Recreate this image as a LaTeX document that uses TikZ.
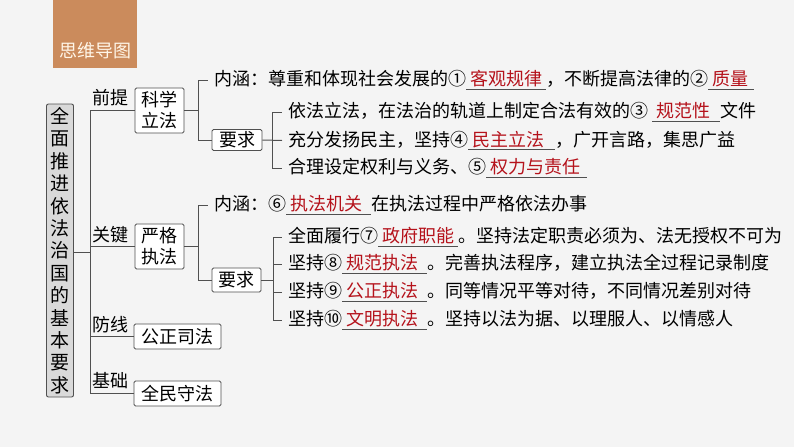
\documentclass[tikz,border=0pt]{standalone}
\usepackage{fontspec}
\setmainfont{Noto Sans CJK SC}
\definecolor{bgc}{HTML}{F4F4F4}
\definecolor{lnc}{HTML}{505050}
\definecolor{ansred}{HTML}{B5121B}
\definecolor{tagc}{HTML}{CB8B5C}
\definecolor{tagtxt}{HTML}{FFF6E8}
\definecolor{boxgray}{HTML}{D9D9D9}
\newcommand\ans[2]{\rlap{\color{lnc}\rule[-4pt]{#1pt}{0.8pt}}\makebox[#1pt][l]{\hspace{4pt}\color{ansred}#2}}
\tikzset{
  conn/.style={draw=lnc, line width=1pt},
  bx/.style={draw=lnc, line width=0.9pt, fill=white, rounded corners=1.5pt, inner sep=0pt, align=center},
  lbl/.style={inner sep=0pt, font=\fontsize{18}{20}\selectfont},
  row/.style={inner xsep=6pt, inner ysep=0pt, anchor=west, font=\fontsize{18}{20}\selectfont},
}
\begin{document}
\begin{tikzpicture}[x=1pt,y=-1pt]
\fill[bgc] (0,0) rectangle (794,447);
\useasboundingbox (0,0) rectangle (794,447);
% title tag
\node[fill=tagc, minimum width=84pt, minimum height=68pt, inner sep=0pt] (tag) at (95,34) {};
\node[inner sep=0pt, text=tagtxt, font=\fontsize{18}{20}\selectfont] (tagt) at (95,51) {思维导图};
% main box
\node[draw=lnc, line width=0.9pt, fill=boxgray, rounded corners=2pt, minimum width=27pt, minimum height=293pt, inner sep=0pt, align=center, font=\fontsize{19}{22.4}\selectfont] (main) at (60,250.5)
  {全\\面\\推\\进\\依\\法\\治\\国\\的\\基\\本\\要\\求};
% level 1 boxes
\node[bx, minimum width=49pt, minimum height=45pt, font=\fontsize{18}{21}\selectfont] (kx) at (159.5,110.5) {科学\\立法};
\node[bx, minimum width=49pt, minimum height=45pt, font=\fontsize{18}{21}\selectfont] (yg) at (159.5,246.5) {严格\\执法};
\node[bx, minimum width=87pt, minimum height=25pt, font=\fontsize{18}{20}\selectfont] (gz) at (177.5,336.5) {公正司法};
\node[bx, minimum width=87pt, minimum height=25pt, font=\fontsize{18}{20}\selectfont] (qm) at (177.5,393.5) {全民守法};
% labels
\node[lbl, anchor=west] (l1) at (92,98) {前提};
\node[lbl, anchor=west] (l2) at (92,235) {关键};
\node[lbl, anchor=west] (l3) at (92,325) {防线};
\node[lbl, anchor=west] (l4) at (92,381) {基础};
% trunk
\coordinate (tj) at (90,252);
\coordinate (tt) at (90,110.5);
\coordinate (tk) at (90,246.5);
\coordinate (tf) at (90,336.5);
\coordinate (tb) at (90,393.5);
\draw[conn] (main.east |- tj) -- (tj);
\draw[conn] (tt) -- (tb);
\draw[conn] (tt) -- (kx.west);
\draw[conn] (tk) -- (yg.west);
\draw[conn] (tf) -- (gz.west);
\draw[conn] (tb) -- (qm.west);
% ---- 科学立法 ----
\node[bx, minimum width=50pt, minimum height=21pt, font=\fontsize{18}{20}\selectfont] (yq1) at (237,140) {要求};
\coordinate (a0) at (198,110.5);
\coordinate (a1) at (198,80);
\coordinate (a2) at (198,140);
\node[row] (r1) at (208,80) {内涵：尊重和体现社会发展的①\ans{80}{客观规律}，不断提高法律的②\ans{46}{质量}};
\draw[conn] (kx.east) -- (a0);
\draw[conn] (a1) -- (a2);
\draw[conn] (a1) -- (r1.west);
\draw[conn] (a2) -- (yq1.west);
\coordinate (b0) at (272,140.5);
\coordinate (b1) at (272,112);
\coordinate (b3) at (272,168);
\node[row] (r2) at (282,112) {依法立法，在法治的轨道上制定合法有效的③\hspace{4pt}\ans{68}{规范性}文件};
\node[row] (r3) at (282,140.5) {充分发扬民主，坚持④\ans{87}{民主立法}，广开言路，集思广益};
\node[row] (r4) at (282,168) {合理设定权利与义务、⑤\ans{101}{权力与责任}};
\draw[conn] (yq1.east) -- (r3.west);
\draw[conn] (b1) -- (b3);
\draw[conn] (b1) -- (r2.west);
\draw[conn] (b3) -- (r4.west);
% ---- 严格执法 ----
\node[bx, minimum width=49pt, minimum height=24pt, font=\fontsize{18}{20}\selectfont] (yq2) at (236.5,280) {要求};
\coordinate (c0) at (198,246.5);
\coordinate (c1) at (198,205);
\coordinate (c2) at (198,280);
\node[row] (s0) at (208,205) {内涵：⑥\ans{85}{执法机关}在执法过程中严格依法办事};
\draw[conn] (yg.east) -- (c0);
\draw[conn] (c1) -- (c2);
\draw[conn] (c1) -- (s0.west);
\draw[conn] (c2) -- (yq2.west);
\coordinate (d0) at (273,280);
\coordinate (d1) at (273,237);
\coordinate (d4) at (273,320);
\node[row] (s1) at (282,237) {全面履行⑦\ans{80}{政府职能}。坚持法定职责必须为、法无授权不可为};
\node[row] (s2) at (282,264) {坚持⑧\ans{85}{规范执法}。完善执法程序，建立执法全过程记录制度};
\node[row] (s3) at (282,292) {坚持⑨\ans{85}{公正执法}。同等情况平等对待，不同情况差别对待};
\node[row] (s4) at (282,320) {坚持⑩\ans{85}{文明执法}。坚持以法为据、以理服人、以情感人};
\draw[conn] (yq2.east) -- (d0);
\draw[conn] (d1) -- (d4);
\draw[conn] (d1) -- (s1.west);
\draw[conn] (d1 |- s2.west) -- (s2.west);
\draw[conn] (d1 |- s3.west) -- (s3.west);
\draw[conn] (d4) -- (s4.west);
\end{tikzpicture}
\end{document}
